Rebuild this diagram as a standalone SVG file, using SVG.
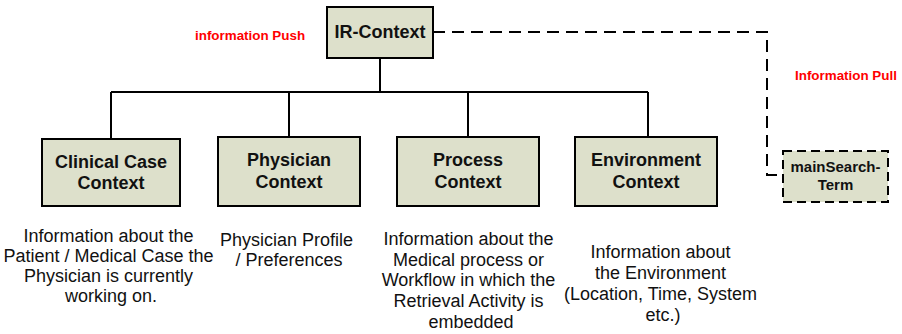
<svg xmlns="http://www.w3.org/2000/svg" width="902" height="334" viewBox="0 0 902 334">
  <style>
    .box { fill: #dde0cb; stroke: #000; stroke-width: 2; }
    .dbox { fill: #dde0cb; stroke: #000; stroke-width: 2; stroke-dasharray: 9 5; }
    .title { font-family: "Liberation Sans", Arial, sans-serif; font-weight: bold; font-size: 18px; text-anchor: middle; fill: #111; }
    .small { font-family: "Liberation Sans", Arial, sans-serif; font-weight: bold; font-size: 15px; text-anchor: middle; fill: #111; }
    .desc { font-family: "Liberation Sans", Arial, sans-serif; font-size: 18px; text-anchor: middle; fill: #111; }
    .red { font-family: "Liberation Sans", Arial, sans-serif; font-weight: bold; font-size: 13.4px; fill: #ff0000; }
    .line { fill: none; stroke: #000; stroke-width: 2; }
    .dash { fill: none; stroke: #000; stroke-width: 2; stroke-dasharray: 12 7; }
  </style>
  <rect width="902" height="334" fill="#fff"/>

  <!-- connectors -->
  <g id="connectors">
    <path class="line" d="M380 58 V92 M111 92 H648 M111 92 V139 M289 92 V137 M468 92 V137 M648 92 V137"/>
    <path class="dash" d="M433 32 H767 V175 H782"/>
  </g>

  <text class="red" x="195" y="40">information Push</text>
  <text class="red" x="795" y="80">Information Pull</text>

  <g id="ir-context">
    <rect class="box" x="327" y="7" width="106" height="51"/>
    <text class="title" x="380" y="38">IR-Context</text>
  </g>

  <g id="clinical-case-context">
    <rect class="box" x="42" y="139" width="138" height="67"/>
    <text class="title" x="111" y="168">Clinical Case</text>
    <text class="title" x="111" y="189">Context</text>
  </g>

  <g id="physician-context">
    <rect class="box" x="218" y="137" width="142" height="69"/>
    <text class="title" x="289" y="166">Physician</text>
    <text class="title" x="289" y="188">Context</text>
  </g>

  <g id="process-context">
    <rect class="box" x="397" y="137" width="142" height="69"/>
    <text class="title" x="468" y="166">Process</text>
    <text class="title" x="468" y="188">Context</text>
  </g>

  <g id="environment-context">
    <rect class="box" x="575" y="137" width="142" height="69"/>
    <text class="title" x="646" y="166">Environment</text>
    <text class="title" x="646" y="188">Context</text>
  </g>

  <g id="main-search-term">
    <rect class="dbox" x="783" y="151" width="105" height="51"/>
    <text class="small" x="835.5" y="172">mainSearch-</text>
    <text class="small" x="835.5" y="190">Term</text>
  </g>

  <!-- descriptions -->
  <text class="desc" x="111" y="242">
    <tspan x="111">Information about the</tspan>
    <tspan x="111" dy="20">Patient / Medical Case the</tspan>
    <tspan x="111" dy="20">Physician is currently</tspan>
    <tspan x="111" dy="20">working on.</tspan>
  </text>
  <text class="desc" x="289" y="246">
    <tspan x="289">Physician Profile</tspan>
    <tspan x="289" dy="20">/ Preferences</tspan>
  </text>
  <text class="desc" x="471" y="245">
    <tspan x="471">Information about the</tspan>
    <tspan x="471" dy="20.7">Medical process or</tspan>
    <tspan x="471" dy="20.7">Workflow in which the</tspan>
    <tspan x="471" dy="20.7">Retrieval Activity is</tspan>
    <tspan x="471" dy="20.7">embedded</tspan>
  </text>
  <text class="desc" x="663" y="258">
    <tspan x="663">Information about</tspan>
    <tspan x="663" dy="21">the Environment</tspan>
    <tspan x="663" dy="21">(Location, Time, System</tspan>
    <tspan x="663" dy="21">etc.)</tspan>
  </text>
</svg>
